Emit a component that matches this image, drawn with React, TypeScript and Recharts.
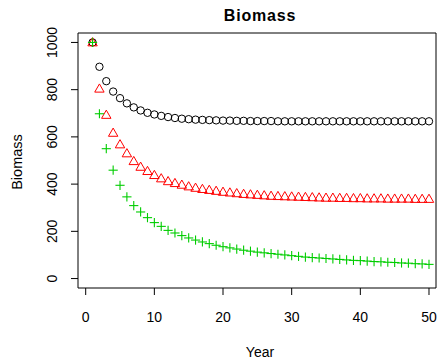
import React from 'react';
import { ScatterChart, Scatter, XAxis, YAxis, ReferenceArea } from 'recharts';

// Years 1..50 and three biomass trajectories
const years = [
  1, 2, 3, 4, 5, 6, 7, 8, 9, 10, 11, 12, 13, 14, 15, 16, 17, 18, 19, 20, 21, 22, 23, 24, 25,
  26, 27, 28, 29, 30, 31, 32, 33, 34, 35, 36, 37, 38, 39, 40, 41, 42, 43, 44, 45, 46, 47, 48, 49, 50,
];

const blackSeries = [
  1000, 897, 836, 792, 764, 742, 725, 712, 702, 695, 689, 684, 680, 677, 675, 673, 672, 671, 670, 669,
  669, 668, 668, 667, 667, 667, 667, 666, 666, 666, 666, 666, 666, 666, 666, 666, 666, 666, 666, 666,
  666, 666, 666, 666, 666, 666, 666, 666, 666, 666,
];

const redSeries = [
  1000, 804, 693, 617, 568, 530, 497, 473, 455, 438, 424, 412, 404, 397, 390, 384, 379, 375, 371, 367,
  364, 361, 358, 356, 354, 352, 350, 349, 348, 347, 346, 345, 344, 343, 342, 342, 341, 341, 340, 340,
  339, 339, 339, 338, 338, 338, 338, 337, 337, 337,
];

const greenSeries = [
  1000, 698, 550, 459, 395, 346, 309, 282, 258, 237, 221, 204, 193, 182, 172, 163, 155, 148, 141, 135,
  130, 125, 120, 116, 112, 109, 106, 103, 100, 97, 94, 91, 89, 87, 85, 83, 81, 79, 77, 76,
  74, 72, 71, 69, 68, 66, 65, 63, 62, 60,
];

const xTicks = [0, 10, 20, 30, 40, 50];
const yTicks = [0, 200, 400, 600, 800, 1000];

const rows = years.map((year, i) => ({
  year,
  black: blackSeries[i],
  red: redSeries[i],
  green: greenSeries[i],
}));

const X_MIN = -1.12;
const X_MAX = 51.02;
const Y_MIN = -40;
const Y_MAX = 1040;

const FONT = '"Liberation Sans", Arial, Helvetica, sans-serif';

const CircleMark = (props: any) => (
  <circle cx={props.cx} cy={props.cy} r={3.7} fill="none" stroke="#000" strokeWidth={1} />
);

const TriangleMark = (props: any) => {
  const { cx, cy } = props;
  const pts = `${cx},${cy - 4.8} ${cx - 4.7},${cy + 3.4} ${cx + 4.7},${cy + 3.4}`;
  return <polygon points={pts} fill="none" stroke="#ff0000" strokeWidth={1} />;
};

const PlusMark = (props: any) => {
  const { cx, cy } = props;
  return (
    <g stroke="#00cd00" strokeWidth={1.1}>
      <line x1={cx - 4.6} y1={cy} x2={cx + 4.6} y2={cy} />
      <line x1={cx} y1={cy - 4.6} x2={cx} y2={cy + 4.6} />
    </g>
  );
};

const XTick = (props: any) => (
  <text x={props.x} y={props.y + 27} textAnchor="middle" fontSize={14} fontFamily={FONT} fill="#000">
    {props.payload.value}
  </text>
);

const YTick = (props: any) => {
  const x = props.x - 14;
  const y = props.y;
  return (
    <text
      x={x}
      y={y}
      transform={`rotate(-90, ${x}, ${y})`}
      textAnchor="middle"
      fontSize={14}
      fontFamily={FONT}
      fill="#000"
    >
      {props.payload.value}
    </text>
  );
};

export default function App() {
  return (
    <div style={{ position: 'absolute', left: 0, top: 0, width: 440, height: 359, background: '#fff' }}>
      <ScatterChart width={440} height={359} margin={{ top: 33, right: 4, bottom: 0, left: 0 }}>
        <XAxis
          type="number"
          dataKey="year"
          domain={[X_MIN, X_MAX]}
          ticks={xTicks}
          tickSize={7}
          tickMargin={0}
          height={71}
          axisLine={false}
          tickLine={{ stroke: '#000' }}
          tick={<XTick />}
        />
        <YAxis
          type="number"
          domain={[Y_MIN, Y_MAX]}
          ticks={yTicks}
          tickSize={7}
          tickMargin={0}
          width={78}
          axisLine={false}
          tickLine={{ stroke: '#000' }}
          tick={<YTick />}
        />
        <ReferenceArea x1={X_MIN} x2={X_MAX} y1={Y_MIN} y2={Y_MAX} fill="none" stroke="#000" strokeWidth={1} />
        <Scatter data={rows} dataKey="black" shape={<CircleMark />} isAnimationActive={false} />
        <Scatter data={rows} dataKey="red" shape={<TriangleMark />} isAnimationActive={false} />
        <Scatter data={rows} dataKey="green" shape={<PlusMark />} isAnimationActive={false} />
      </ScatterChart>
      <svg
        width={440}
        height={359}
        style={{ position: 'absolute', left: 0, top: 0, pointerEvents: 'none' }}
      >
        <text x={260} y={21} textAnchor="middle" fontSize={16} fontWeight="bold" fontFamily={FONT} letterSpacing={0.8}>
          Biomass
        </text>
        <text x={260} y={357} textAnchor="middle" fontSize={14} fontFamily={FONT}>
          Year
        </text>
        <text
          x={21.5}
          y={162}
          transform="rotate(-90, 21.5, 162)"
          textAnchor="middle"
          fontSize={14.5}
          fontFamily={FONT}
        >
          Biomass
        </text>
      </svg>
    </div>
  );
}
